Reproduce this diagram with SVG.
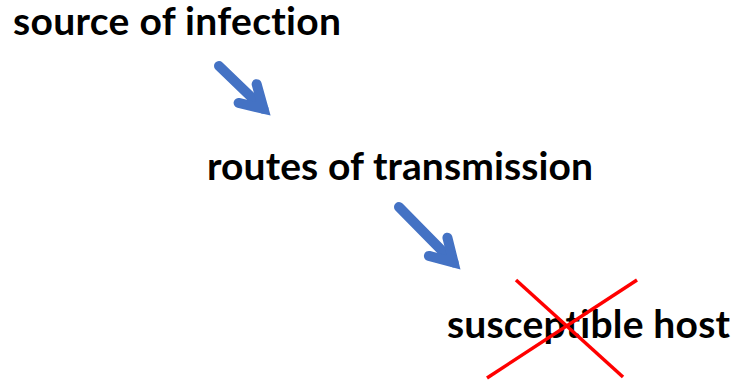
<svg xmlns="http://www.w3.org/2000/svg" width="738" height="381" viewBox="0 0 738 381">
<style>
.lbl{font-family:Lato,"Liberation Sans",Arial,sans-serif;font-weight:bold;font-size:39px;fill:#000;font-variant-ligatures:none;font-feature-settings:"liga" 0,"clig" 0,"dlig" 0}
.arr{stroke:#4472C4;stroke-width:10;stroke-linecap:round;fill:none}
.cross{stroke:#FF0000;stroke-width:3.5;stroke-linecap:butt}
</style>
<defs>
<marker id="head" markerUnits="userSpaceOnUse" orient="auto" refX="0" refY="0" markerWidth="60" markerHeight="60" viewBox="-40 -30 60 60" overflow="visible">
<path d="M -22 -13 L 0 0 L -22 13" fill="none" stroke="#4472C4" stroke-width="10" stroke-linecap="round" stroke-linejoin="miter" stroke-miterlimit="10"/>
</marker>
</defs>
<rect width="738" height="381" fill="#fff"/>
<g id="source"><text class="lbl" x="13" y="35" textLength="328" lengthAdjust="spacing">source of infection</text></g>
<g id="routes"><text class="lbl" x="207" y="180" textLength="386" lengthAdjust="spacing">routes of transmission</text></g>
<g id="host"><text class="lbl" x="447" y="338" textLength="283" lengthAdjust="spacing">susceptible host</text>
<line class="cross" x1="516" y1="280" x2="623" y2="377"/>
<line class="cross" x1="637" y1="280" x2="487" y2="378"/>
</g>
<g id="connectors">
<line class="arr" x1="219" y1="66" x2="263.5" y2="108.8" marker-end="url(#head)"/>
<line class="arr" x1="399" y1="207" x2="453.6" y2="262.5" marker-end="url(#head)"/>
</g>
</svg>
